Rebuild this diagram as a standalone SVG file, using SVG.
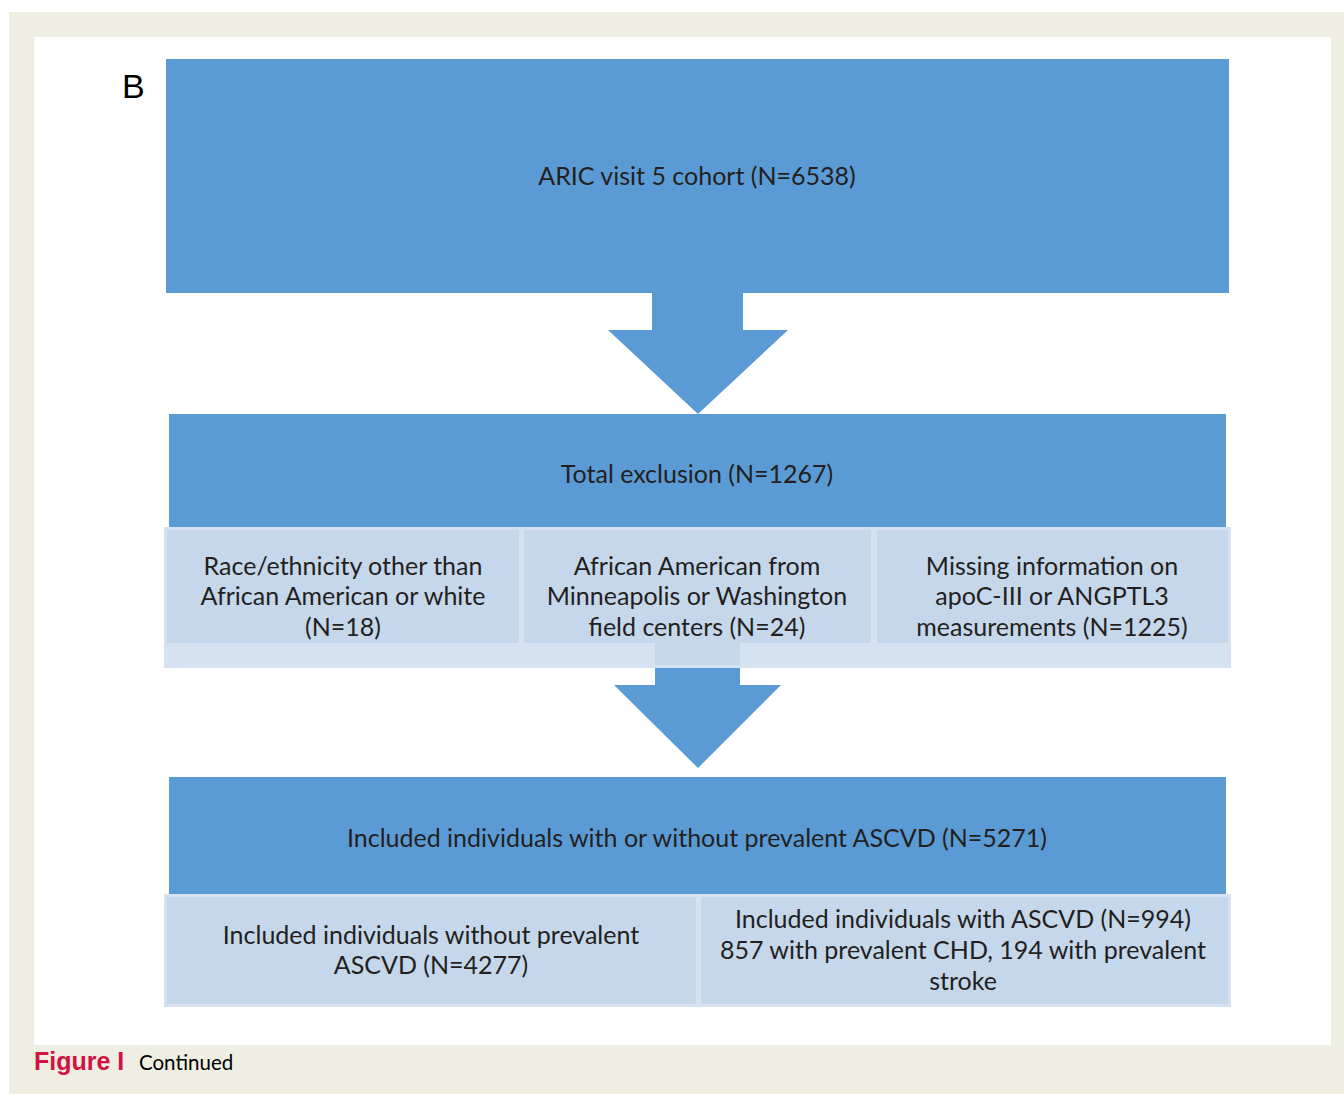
<svg xmlns="http://www.w3.org/2000/svg" width="1344" height="1094" viewBox="0 0 1344 1094">
<style>
.main{fill:#5B9BD5}
.sub{fill:#C5D7EB;stroke:#D6E2F1;stroke-width:3}
.band{fill:#D5E2F1}
.t{font-family:Lato,"Open Sans",sans-serif;font-size:25px;fill:#231F20;text-anchor:middle}
</style>
<rect x="0" y="0" width="1344" height="1094" fill="#FFFFFF"/>
<rect x="9" y="12" width="1335" height="1082" fill="#EFEEE3"/>
<rect x="34" y="37" width="1297" height="1008" fill="#FFFFFF"/>
<text x="122" y="98" font-family="Liberation Sans, Arial, sans-serif" font-size="34" fill="#000">B</text>

<g id="connectors">
<path class="main" d="M652,292 H743 V330 H788 L698,414 L608,330 H652 Z"/>
<path class="main" d="M655,666 H740 V685 H781 L698,768 L614,685 H655 Z"/>
</g>

<g id="cohort">
<rect class="main" x="166" y="59" width="1063" height="234"/>
<text class="t" x="697" y="185">ARIC visit 5 cohort (N=6538)</text>
</g>

<g id="exclusion">
<rect class="main" x="169" y="414" width="1057" height="114"/>
<text class="t" x="697" y="483">Total exclusion (N=1267)</text>
</g>

<g id="excl-race">
<rect class="sub" x="165.5" y="528.5" width="355" height="138"/>
<rect class="band" x="167" y="643" width="352" height="22"/>
<text class="t" x="343" y="575">Race/ethnicity other than</text>
<text class="t" x="343" y="605">African American or white</text>
<text class="t" x="343" y="636">(N=18)</text>
</g>

<g id="excl-center">
<rect class="sub" x="522.5" y="528.5" width="350" height="138"/>
<rect class="band" x="524" y="643" width="347" height="22"/>
<rect fill="#C5D7EB" x="655" y="643" width="85" height="22"/>
<text class="t" x="697" y="575">African American from</text>
<text class="t" x="697" y="605">Minneapolis or Washington</text>
<text class="t" x="697" y="636">field centers (N=24)</text>
</g>

<g id="excl-missing">
<rect class="sub" x="875.5" y="528.5" width="354" height="138"/>
<rect class="band" x="877" y="643" width="351" height="22"/>
<text class="t" x="1052" y="575">Missing information on</text>
<text class="t" x="1052" y="605">apoC-III or ANGPTL3</text>
<text class="t" x="1052" y="636">measurements (N=1225)</text>
</g>

<g id="included">
<rect class="main" x="169" y="777" width="1057" height="117"/>
<text class="t" x="697" y="847">Included individuals with or without prevalent ASCVD (N=5271)</text>
</g>

<g id="incl-without">
<rect class="sub" x="165.5" y="895.5" width="532" height="110"/>
<text class="t" x="431" y="944">Included individuals without prevalent</text>
<text class="t" x="431" y="974">ASCVD (N=4277)</text>
</g>

<g id="incl-with">
<rect class="sub" x="699.5" y="895.5" width="530" height="110"/>
<text class="t" x="963" y="928">Included individuals with ASCVD (N=994)</text>
<text class="t" x="963" y="959">857 with prevalent CHD, 194 with prevalent</text>
<text class="t" x="963" y="990">stroke</text>
</g>

<text x="34" y="1070" font-family="Liberation Sans, Arial, sans-serif" font-size="25" font-weight="bold" fill="#D21242">Figure I</text>
<text x="139" y="1070" font-family="Lato, Liberation Sans, sans-serif" font-size="20.5" fill="#000">Continued</text>
</svg>
